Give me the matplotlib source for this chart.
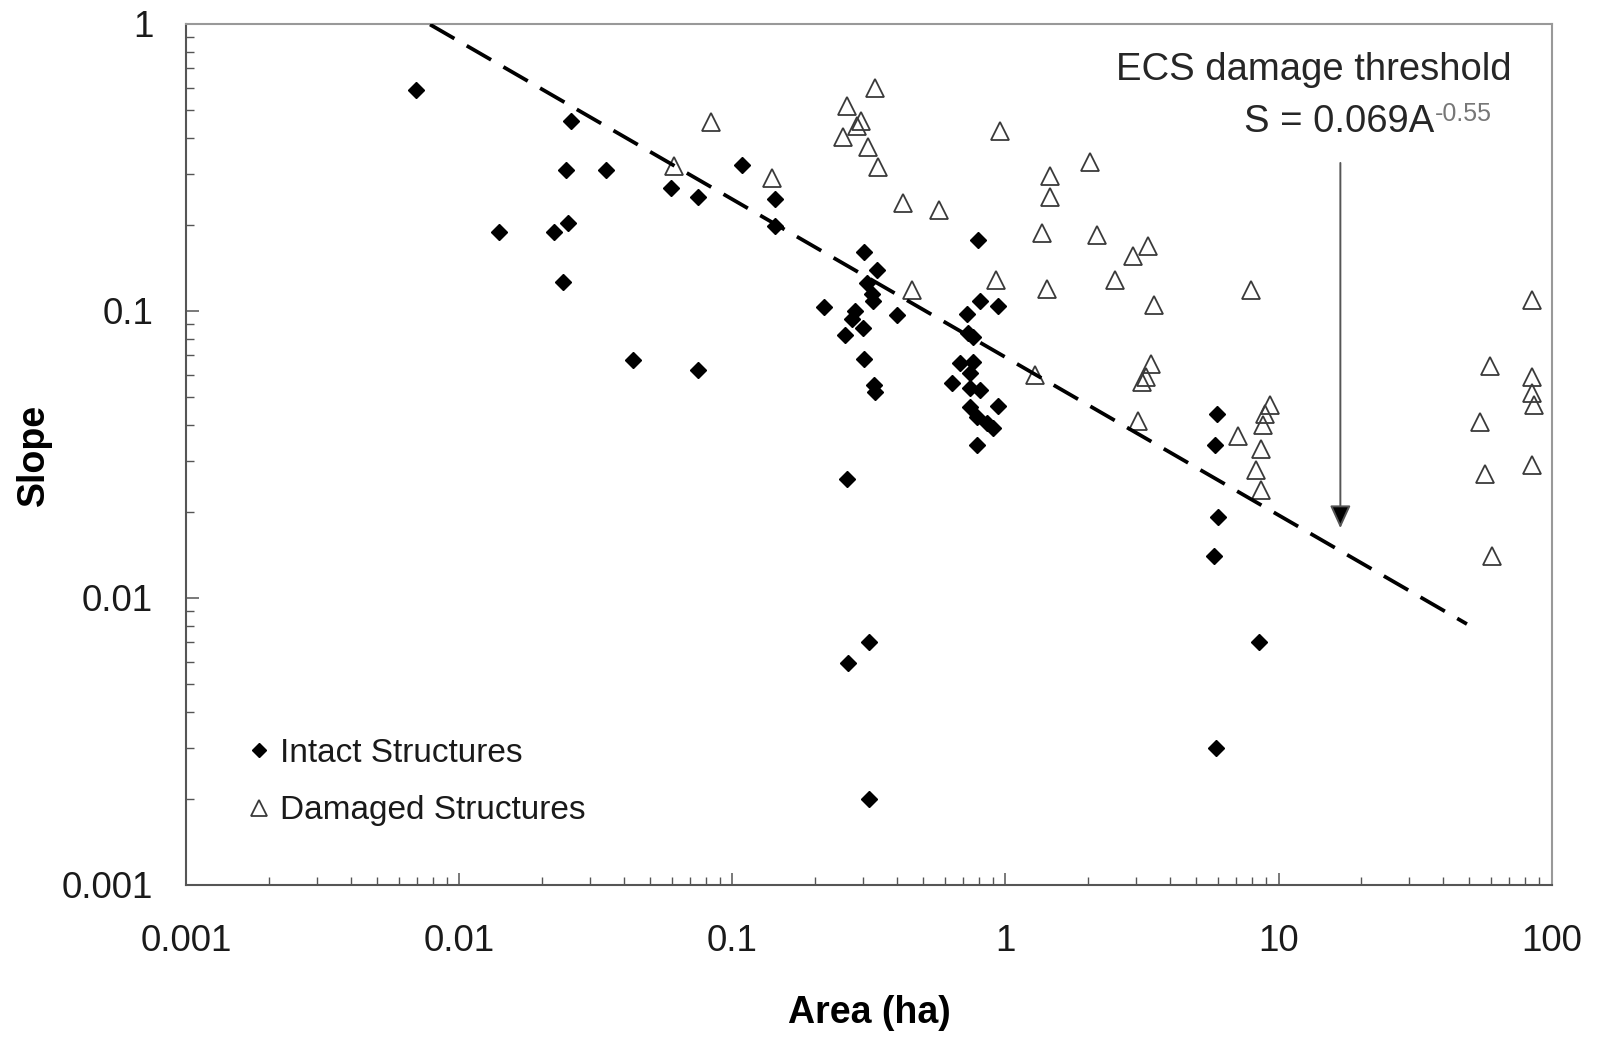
import numpy as np
import matplotlib.pyplot as plt
from matplotlib.ticker import FixedLocator, FixedFormatter, LogLocator, NullFormatter

plt.rcParams['font.family'] = ['Liberation Sans', 'DejaVu Sans']

# drainage area (ha) and slope for structures that held up
intact_area = [0.0069, 0.014, 0.0256, 0.0245, 0.0344, 0.0249, 0.0221, 0.024, 0.0433,
               0.0595, 0.075, 0.075, 0.108, 0.143, 0.143, 0.216, 0.303, 0.339, 0.31,
               0.324, 0.326, 0.281, 0.273, 0.301, 0.258, 0.40, 0.303, 0.33, 0.333,
               0.262, 0.317, 0.266, 0.317, 0.79, 0.806, 0.94, 0.72, 0.73, 0.76, 0.68,
               0.76, 0.74, 0.635, 0.74, 0.806, 0.74, 0.94, 0.784, 0.853, 0.90, 0.784,
               5.96, 5.86, 6.0, 5.81, 8.48, 5.9]
intact_slope = [0.59, 0.188, 0.46, 0.31, 0.31, 0.203, 0.188, 0.126, 0.0675,
                0.269, 0.249, 0.0623, 0.323, 0.245, 0.198, 0.1035, 0.16, 0.139, 0.125,
                0.115, 0.108, 0.10, 0.094, 0.087, 0.0825, 0.097, 0.068, 0.0553, 0.0523,
                0.0259, 0.0070, 0.00595, 0.0020, 0.177, 0.108, 0.104, 0.098, 0.0836, 0.0813, 0.0657,
                0.0666, 0.0607, 0.056, 0.0538, 0.053, 0.0464, 0.0467, 0.0428, 0.0406, 0.039, 0.0341,
                0.0436, 0.0341, 0.0191, 0.014, 0.0070, 0.0030]

# structures that failed
damaged_area = [0.0834, 0.061, 0.14, 0.333, 0.262, 0.295, 0.285, 0.2545, 0.314, 0.342,
                0.954, 0.42, 0.572, 2.04, 1.46, 1.46, 1.36, 2.16, 0.453, 0.923, 1.42,
                1.28, 2.92, 3.32, 2.52, 3.5, 3.41, 3.27, 3.16, 3.05, 7.91, 7.08, 9.3,
                8.9, 8.8, 8.6, 8.3, 8.6, 85, 59.6, 85, 85, 86, 54.7, 57, 85, 60.6]
damaged_slope = [0.457, 0.32, 0.29, 0.60, 0.518, 0.46, 0.44, 0.405, 0.374, 0.318,
                 0.425, 0.238, 0.224, 0.331, 0.295, 0.249, 0.187, 0.184, 0.118, 0.128, 0.119,
                 0.0598, 0.156, 0.169, 0.128, 0.105, 0.0656, 0.059, 0.0566, 0.0415, 0.118, 0.0367, 0.047,
                 0.0436, 0.040, 0.033, 0.028, 0.0238, 0.109, 0.0645, 0.059, 0.052, 0.047, 0.0411, 0.027, 0.029, 0.014]

# threshold S = a * A^b
thresh_coef = 0.069
thresh_exp = -0.55
thresh_area = [0.0078, 49.0]
arrow_area = 16.85

x_ticks = [0.001, 0.01, 0.1, 1, 10, 100]
x_ticklabels = ['0.001', '0.01', '0.1', '1', '10', '100']
y_ticks = [0.001, 0.01, 0.1, 1]
y_ticklabels = ['0.001', '0.01', '0.1', '1']

fig = plt.figure(figsize=(15.97, 10.37), dpi=100)
ax = fig.add_axes([0.11678, 0.14658, 0.85473, 0.83028])
ax.set_xscale('log')
ax.set_yscale('log')

ax.plot(intact_area, intact_slope, 'D', ls='none', ms=8, color='black',
        label='Intact Structures', zorder=3)
ax.plot(damaged_area, damaged_slope, '^', ls='none', ms=13, mfc='none', mec='#3a3a3a',
        mew=1.3, label='Damaged Structures', zorder=3)

line_a = np.array(thresh_area)
ax.plot(line_a, thresh_coef * line_a ** thresh_exp, color='black', lw=2.7,
        dashes=(7.5, 3.8), zorder=4)

ax.set_xlim(0.001, 100)
ax.set_ylim(0.001, 1)

ax.xaxis.set_major_locator(FixedLocator(x_ticks))
ax.xaxis.set_major_formatter(FixedFormatter(x_ticklabels))
ax.yaxis.set_major_locator(FixedLocator(y_ticks))
ax.yaxis.set_major_formatter(FixedFormatter(y_ticklabels))
for axis in (ax.xaxis, ax.yaxis):
    axis.set_minor_locator(LogLocator(base=10, subs=np.arange(2, 10)))
    axis.set_minor_formatter(NullFormatter())

ax.tick_params(which='both', direction='in', top=False, right=False,
               color='#555555', labelcolor='#1a1a1a', labelsize=26.5)
ax.tick_params(which='major', length=9, width=1.1)
ax.tick_params(which='minor', length=6, width=1.0)
ax.tick_params(axis='y', which='both', pad=24)
ax.tick_params(axis='x', which='both', pad=28)

for side in ('left', 'bottom'):
    ax.spines[side].set_color('#555555')
    ax.spines[side].set_linewidth(1.5)
for side in ('top', 'right'):
    ax.spines[side].set_color('#999999')
    ax.spines[side].set_linewidth(1.5)

ax.set_xlabel('Area (ha)', fontsize=27, fontweight='bold', va='center')
ax.xaxis.set_label_coords(0.5, -0.1491)
ax.set_ylabel('Slope', fontsize=27, fontweight='bold', va='center')
ax.yaxis.set_label_coords(-0.1117, 0.5)

ax.text(0.9707, 0.9355, 'ECS damage threshold', transform=ax.transAxes,
        ha='right', va='baseline', fontsize=27.5, color='#262626')
eq = ax.text(0.7744, 0.8741, f'S = {thresh_coef}A', transform=ax.transAxes,
             ha='left', va='baseline', fontsize=27.5, color='#262626')
# exponent set as a small raised label after the equation
ax.annotate(f'{thresh_exp}', xy=(1.0, 1.0), xycoords=eq, xytext=(1, 2),
            textcoords='offset points', ha='left', va='top', fontsize=18,
            color='#777777')

tip = thresh_coef * arrow_area ** thresh_exp * 1.2
ax.annotate('', xy=(arrow_area, tip), xytext=(arrow_area, 0.328),
            arrowprops=dict(arrowstyle='-|>,head_length=0.7,head_width=0.32',
                            mutation_scale=20, fc='black', ec='#555555', lw=1.4,
                            shrinkA=0, shrinkB=0))

leg = ax.legend(loc='center left', bbox_to_anchor=(0.0456, 0.1196), frameon=False,
                fontsize=24, handlelength=0.6, handletextpad=0.35, labelspacing=0.8,
                borderpad=0, borderaxespad=0, markerscale=0.85)
for t in leg.get_texts():
    t.set_color('#1a1a1a')

fig.savefig('out.png', dpi=100, facecolor='white')
